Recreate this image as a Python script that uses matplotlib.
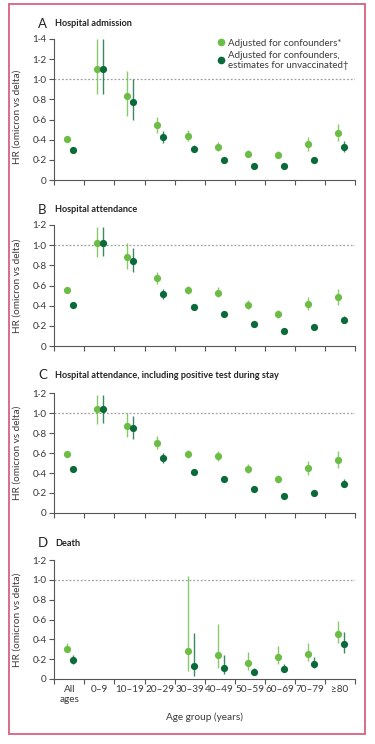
import matplotlib
matplotlib.use("Agg")
import matplotlib.pyplot as plt
import numpy as np
from matplotlib.lines import Line2D
from matplotlib.patches import Rectangle
from matplotlib.ticker import FuncFormatter

plt.rcParams['font.family'] = ['Lato', 'DejaVu Sans']

ages = ["All\nages", "0–9", "10–19", "20–29", "30–39", "40–49", "50–59", "60–69", "70–79", "≥80"]

# hospital admission
a_adj = [0.41, 1.10, 0.83, 0.55, 0.44, 0.33, 0.26, 0.25, 0.36, 0.47]
a_adj_lo = [0.40, 0.85, 0.64, 0.47, 0.39, 0.29, 0.23, 0.22, 0.29, 0.39]
a_adj_hi = [0.42, 1.40, 1.08, 0.63, 0.50, 0.38, 0.30, 0.29, 0.43, 0.56]
a_unv = [0.30, 1.10, 0.775, 0.43, 0.31, 0.20, 0.14, 0.14, 0.20, 0.33]
a_unv_lo = [0.29, 0.85, 0.60, 0.37, 0.28, 0.18, 0.12, 0.12, 0.18, 0.28]
a_unv_hi = [0.31, 1.40, 1.00, 0.49, 0.35, 0.22, 0.16, 0.16, 0.23, 0.39]

# hospital attendance
b_adj = [0.56, 1.02, 0.88, 0.67, 0.56, 0.53, 0.41, 0.315, 0.42, 0.49]
b_adj_lo = [0.55, 0.885, 0.76, 0.61, 0.52, 0.49, 0.37, 0.28, 0.355, 0.41]
b_adj_hi = [0.57, 1.18, 1.02, 0.73, 0.60, 0.59, 0.46, 0.355, 0.49, 0.57]
b_unv = [0.41, 1.02, 0.84, 0.52, 0.39, 0.315, 0.215, 0.15, 0.185, 0.26]
b_unv_lo = [0.40, 0.89, 0.73, 0.47, 0.37, 0.30, 0.20, 0.14, 0.17, 0.23]
b_unv_hi = [0.42, 1.18, 0.97, 0.57, 0.41, 0.33, 0.23, 0.16, 0.20, 0.30]

# hospital attendance incl. positive test during stay
c_adj = [0.59, 1.04, 0.875, 0.705, 0.59, 0.575, 0.445, 0.34, 0.45, 0.53]
c_adj_lo = [0.58, 0.895, 0.76, 0.645, 0.55, 0.52, 0.40, 0.30, 0.38, 0.455]
c_adj_hi = [0.60, 1.18, 1.00, 0.77, 0.63, 0.62, 0.49, 0.38, 0.52, 0.62]
c_unv = [0.44, 1.04, 0.85, 0.55, 0.415, 0.34, 0.24, 0.17, 0.205, 0.295]
c_unv_lo = [0.43, 0.90, 0.74, 0.50, 0.40, 0.32, 0.22, 0.16, 0.19, 0.26]
c_unv_hi = [0.45, 1.18, 0.97, 0.60, 0.43, 0.36, 0.26, 0.18, 0.22, 0.34]

# death (no estimates for under 30s)
d_adj = [0.307, np.nan, np.nan, np.nan, 0.28, 0.245, 0.157, 0.22, 0.253, 0.453]
d_adj_lo = [0.27, np.nan, np.nan, np.nan, 0.077, 0.11, 0.093, 0.147, 0.18, 0.36]
d_adj_hi = [0.36, np.nan, np.nan, np.nan, 1.04, 0.55, 0.27, 0.337, 0.36, 0.583]
d_unv = [0.195, np.nan, np.nan, np.nan, 0.127, 0.11, 0.07, 0.103, 0.153, 0.357]
d_unv_lo = [0.155, np.nan, np.nan, np.nan, 0.035, 0.047, 0.037, 0.07, 0.113, 0.267]
d_unv_hi = [0.24, np.nan, np.nan, np.nan, 0.46, 0.237, 0.113, 0.147, 0.22, 0.477]

panels = [
    ("A", "Hospital admission", 1.4, a_adj, a_adj_lo, a_adj_hi, a_unv, a_unv_lo, a_unv_hi),
    ("B", "Hospital attendance", 1.2, b_adj, b_adj_lo, b_adj_hi, b_unv, b_unv_lo, b_unv_hi),
    ("C", "Hospital attendance, including positive test during stay", 1.2, c_adj, c_adj_lo, c_adj_hi, c_unv, c_unv_lo, c_unv_hi),
    ("D", "Death", 1.2, d_adj, d_adj_lo, d_adj_hi, d_unv, d_unv_lo, d_unv_hi),
]

light = "#6cbd45"
dark = "#0b6a3a"
grey = "#555555"
txt = "#3a3a3a"

W, H = 375, 744
fig = plt.figure(figsize=(3.75, 7.44), dpi=100)

# px boxes: (bottom, top)
boxes = [(180, 39), (346, 225), (513, 393), (679, 560)]
title_y = [24, 210, 375, 543]
left, right = 54.3, 355

fig.patches.append(Rectangle((9 / W, 1 - 734 / H), 356 / W, 730 / H, transform=fig.transFigure,
                             fill=False, edgecolor="#d9607f", linewidth=1.3))

x = np.arange(len(ages))
fmt = FuncFormatter(lambda v, p: "0" if abs(v) < 1e-9 else ("%.1f" % v).replace(".", "·"))

for k, (letter, title, ymax, adj, adj_lo, adj_hi, unv, unv_lo, unv_hi) in enumerate(panels):
    bot, top = boxes[k]
    ax = fig.add_axes([left / W, 1 - bot / H, (right - left) / W, (bot - top) / H])
    ax.axhline(1.0, color="#a0a0a0", linestyle=(0, (1.5, 1.5)), linewidth=0.9, zorder=1)

    adj = np.array(adj); unv = np.array(unv)
    for xs, v, lo, hi, col in [(x - 0.07, adj, adj_lo, adj_hi, light), (x + 0.13, unv, unv_lo, unv_hi, dark)]:
        lo = np.array(lo); hi = np.array(hi)
        ax.vlines(xs, lo, hi, color=col, linewidth=1.0, alpha=0.8, zorder=2)
        ax.plot(xs, v, "o", color=col, markersize=5.2, markeredgewidth=0, zorder=3)

    ax.set_xlim(-0.5, 9.5)
    ax.set_ylim(0, ymax)
    ax.set_yticks(np.arange(0, ymax + 0.01, 0.2))
    ax.yaxis.set_major_formatter(fmt)
    ax.set_xticks(np.arange(-0.5, 10, 1))
    ax.set_xticklabels([])
    ax.set_xticks(x, minor=True)
    if letter == "D":
        ax.set_xticklabels(ages, minor=True, fontsize=7.2, color=txt, linespacing=1.25)
        ax.set_xlabel("Age group (years)", fontsize=7.2, color=txt, labelpad=6)
    ax.tick_params(axis="x", which="minor", length=0, pad=4)
    ax.tick_params(axis="both", which="major", length=3.5, width=0.8, color=grey,
                   labelsize=7.2, labelcolor=txt, pad=2)
    for s in ["top", "right"]:
        ax.spines[s].set_visible(False)
    for s in ["left", "bottom"]:
        ax.spines[s].set_color(grey)
        ax.spines[s].set_linewidth(0.8)
    ax.set_ylabel("HR (omicron vs delta)", fontsize=7.2, color=txt)
    ax.yaxis.set_label_coords(-0.11, 0.447 if letter == "A" else 0.5)

    fig.text(38 / W, 1 - title_y[k] / H, letter, fontsize=9.5, color="#222222", va="center", ha="left")
    fig.text(55 / W, 1 - title_y[k] / H, title, fontsize=6.6, fontweight="bold", color="#222222",
             va="center", ha="left")

    if letter == "A":
        handles = [Line2D([], [], marker="o", linestyle="", color=light, markersize=4.5),
                   Line2D([], [], marker="o", linestyle="", color=dark, markersize=4.5)]
        ax.legend(handles, ["Adjusted for confounders*", "Adjusted for confounders,\nestimates for unvaccinated†"],
                  loc="upper right", bbox_to_anchor=(1.0, 1.05), frameon=False, fontsize=7.0,
                  handletextpad=0.1, handlelength=1.2, labelspacing=0.3, borderpad=0.2, labelcolor=txt)

fig.savefig("out.png", dpi=100)
